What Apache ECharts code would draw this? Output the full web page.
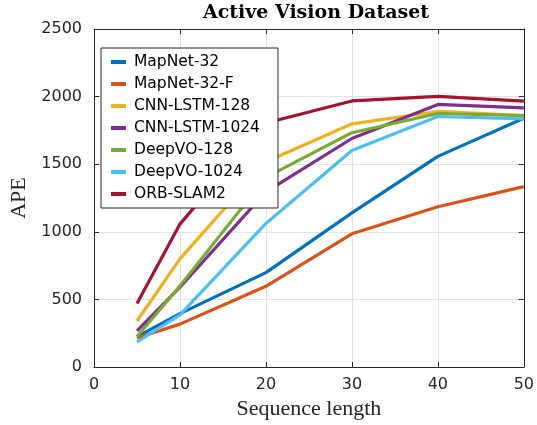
<!DOCTYPE html>
<html>
<head>
<meta charset="utf-8">
<script src="https://cdn.jsdelivr.net/npm/echarts@6/dist/echarts.min.js"></script>
<style>html,body{margin:0;padding:0;background:#fff}#c{width:537px;height:425px}</style>
</head>
<body>
<div id="c"></div>
<script>
const seqLengths = [5, 10, 20, 30, 40, 50];
const seriesNames = ['MapNet-32', 'MapNet-32-F', 'CNN-LSTM-128', 'CNN-LSTM-1024', 'DeepVO-128', 'DeepVO-1024', 'ORB-SLAM2'];
const mapNet32 = [225, 395, 698, 1140, 1558, 1840];
const mapNet32F = [215, 317, 597, 985, 1185, 1334];
const cnnLstm128 = [340, 800, 1518, 1798, 1890, 1860];
const cnnLstm1024 = [268, 590, 1295, 1690, 1942, 1917];
const deepVO128 = [225, 600, 1402, 1733, 1875, 1860];
const deepVO1024 = [185, 386, 1062, 1602, 1853, 1835];
const orbSlam2 = [470, 1057, 1805, 1968, 2001, 1966];
const colors = ['#0072BD', '#D95319', '#EDB120', '#7E2F8E', '#77AC30', '#4DBEEE', '#A2142F'];
const xTicks = [0, 10, 20, 30, 40, 50];
const yTicks = [0, 500, 1000, 1500, 2000, 2500];

const allValues = [mapNet32, mapNet32F, cnnLstm128, cnnLstm1024, deepVO128, deepVO1024, orbSlam2];
const axisColor = '#262626';
const sansFont = 'DejaVu Sans';

const series = seriesNames.map((name, i) => ({
  name: name,
  type: 'line',
  xAxisIndex: 0,
  yAxisIndex: 0,
  data: seqLengths.map((x, j) => [x, allValues[i][j]]),
  showSymbol: false,
  symbol: 'none',
  lineStyle: { width: 3.2, color: colors[i] },
  itemStyle: { color: colors[i] },
  emphasis: { disabled: true },
  animation: false
}));

const chart = echarts.init(document.getElementById('c'));
chart.setOption({
  backgroundColor: '#fff',
  animation: false,
  title: {
    text: 'Active Vision Dataset',
    left: 311,
    textAlign: 'center',
    top: -1,
    textStyle: { fontFamily: 'DejaVu Serif', fontWeight: 'bold', fontSize: 19, color: '#000' }
  },
  grid: { left: 94, right: 12, top: 29, bottom: 58, containLabel: false },
  legend: {
    data: seriesNames,
    orient: 'vertical',
    left: 101,
    top: 48,
    itemWidth: 15,
    itemHeight: 4,
    itemGap: 6,
    icon: 'rect',
    padding: [6, 18, 6, 10],
    backgroundColor: '#fff',
    borderColor: axisColor,
    borderWidth: 1,
    textStyle: { fontFamily: sansFont, fontSize: 15.5, color: '#000', lineHeight: 16, padding: [0, 0, 0, 3] }
  },
  xAxis: [{
    type: 'value',
    min: xTicks[0],
    max: xTicks[xTicks.length - 1],
    interval: 10,
    name: 'Sequence length',
    nameLocation: 'middle',
    nameGap: 31,
    nameTextStyle: { fontFamily: 'Liberation Serif', fontSize: 22, color: '#262626' },
    axisLine: { show: true, onZero: false, lineStyle: { color: axisColor, width: 1 } },
    axisTick: { show: true, inside: true, length: 5, lineStyle: { color: axisColor } },
    axisLabel: { fontFamily: sansFont, fontSize: 16, color: axisColor, margin: 10, formatter: v => String(v) },
    splitLine: { show: true, lineStyle: { color: '#e3e3e3', width: 1 } }
  }, {
    type: 'value',
    position: 'top',
    min: xTicks[0],
    max: xTicks[xTicks.length - 1],
    interval: 10,
    axisLine: { show: true, onZero: false, lineStyle: { color: axisColor, width: 1 } },
    axisTick: { show: true, inside: true, length: 5, lineStyle: { color: axisColor } },
    axisLabel: { show: false },
    splitLine: { show: false }
  }],
  yAxis: [{
    type: 'value',
    min: yTicks[0],
    max: yTicks[yTicks.length - 1],
    interval: 500,
    name: 'APE',
    nameLocation: 'middle',
    nameGap: 64,
    nameTextStyle: { fontFamily: 'Liberation Serif', fontSize: 22, color: '#262626' },
    axisLine: { show: true, onZero: false, lineStyle: { color: axisColor, width: 1 } },
    axisTick: { show: true, inside: true, length: 5, lineStyle: { color: axisColor } },
    axisLabel: { fontFamily: sansFont, fontSize: 16, color: axisColor, margin: 12, formatter: v => String(v) },
    splitLine: { show: true, lineStyle: { color: '#e3e3e3', width: 1 } }
  }, {
    type: 'value',
    position: 'right',
    min: yTicks[0],
    max: yTicks[yTicks.length - 1],
    interval: 500,
    axisLine: { show: true, onZero: false, lineStyle: { color: axisColor, width: 1 } },
    axisTick: { show: true, inside: true, length: 5, lineStyle: { color: axisColor } },
    axisLabel: { show: false },
    splitLine: { show: false }
  }],
  series: series
});
</script>
</body>
</html>
